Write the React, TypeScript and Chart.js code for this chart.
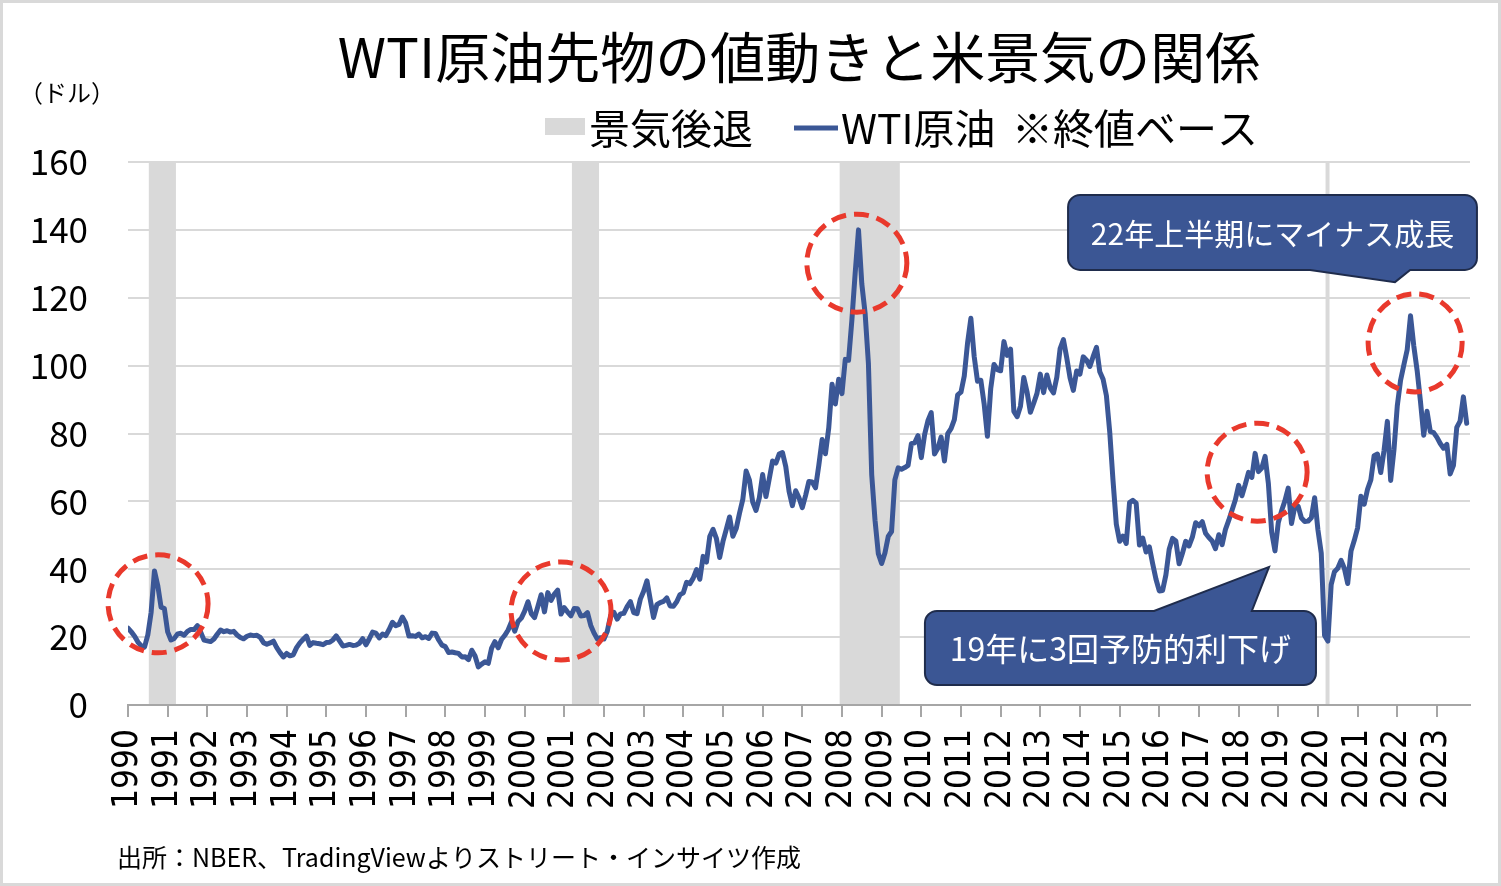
import React, { useEffect, useRef } from 'react';
import { Chart, registerables } from 'chart.js';

Chart.register(...registerables);

// ---- data (monthly closing price of WTI crude futures, USD) ----
const START_YEAR = 1990;
const prices1990s = [
  22.68, 21.54, 20.28, 18.54, 17.40, 17.07, 20.69, 27.32, 39.51, 35.23, 28.85, 28.44,
  21.54, 19.16, 19.63, 20.96, 21.13, 20.56, 21.68, 22.26, 22.23, 23.37, 21.48, 19.12,
  18.90, 18.68, 19.44, 20.85, 22.11, 21.60, 21.87, 21.48, 21.71, 20.62, 19.89, 19.50,
  20.26, 20.60, 20.44, 20.53, 19.91, 18.37, 17.88, 18.29, 18.79, 16.92, 15.43, 14.17,
  15.19, 14.48, 14.79, 16.90, 18.31, 19.37, 20.30, 17.56, 18.39, 18.19, 18.05, 17.76,
  18.39, 18.49, 19.17, 20.38, 18.89, 17.40, 17.56, 17.84, 17.54, 17.64, 18.18, 19.55,
  17.74, 19.54, 21.47, 21.20, 19.76, 20.92, 20.42, 22.25, 24.38, 23.35, 23.75, 25.92,
  24.15, 20.30, 20.41, 20.21, 20.88, 19.80, 20.14, 19.61, 21.18, 21.08, 19.15, 17.64,
  17.21, 15.44, 15.61, 15.39, 15.20, 14.18, 14.21, 13.39, 16.14, 14.42, 11.22, 12.05,
  12.75, 12.27, 16.76, 18.66, 16.84, 19.29, 20.53, 22.11, 24.51, 21.75, 24.59, 25.60,
];
const prices2000s = [
  27.64, 30.43, 26.90, 25.74, 29.01, 32.50, 27.43, 33.12, 30.84, 32.70, 33.82, 26.80,
  28.66, 27.39, 26.29, 28.46, 28.37, 26.25, 26.35, 27.20, 23.43, 21.18, 19.44, 19.84,
  19.48, 21.74, 26.31, 27.29, 25.31, 26.86, 27.02, 28.98, 30.45, 27.22, 26.89, 31.20,
  33.51, 36.60, 31.04, 25.80, 29.56, 30.19, 30.54, 31.57, 29.20, 29.11, 30.41, 32.52,
  33.05, 36.16, 35.76, 37.38, 39.88, 37.05, 43.80, 42.12, 49.64, 51.76, 49.13, 43.45,
  48.20, 51.75, 55.40, 49.72, 51.97, 56.50, 60.57, 68.94, 66.24, 59.76, 57.32, 61.04,
  67.92, 61.41, 66.63, 71.88, 71.29, 73.93, 74.40, 70.26, 62.91, 58.73, 63.13, 61.05,
  58.14, 61.79, 65.87, 65.71, 64.01, 70.68, 78.21, 74.04, 81.66, 94.53, 88.71, 95.98,
  91.75, 101.84, 101.58, 113.46, 127.35, 140.00, 124.08, 115.46, 100.64, 67.81, 54.43, 44.60,
  41.68, 44.76, 49.66, 51.12, 66.31, 69.89, 69.45, 69.96, 70.61, 77.00, 77.28, 79.36,
];
const prices2010s = [
  72.89, 79.66, 83.76, 86.15, 73.97, 75.63, 78.95, 71.92, 79.97, 81.43, 84.11, 91.38,
  92.19, 96.97, 106.72, 113.93, 102.70, 95.42, 95.70, 88.81, 79.20, 93.19, 100.36, 98.83,
  98.48, 107.07, 103.02, 104.87, 86.53, 84.96, 88.06, 96.47, 92.19, 86.24, 88.91, 91.82,
  97.49, 92.05, 97.23, 93.46, 91.97, 96.56, 105.03, 107.65, 102.33, 96.38, 92.72, 98.42,
  97.49, 102.59, 101.58, 99.74, 102.71, 105.37, 98.17, 95.96, 91.16, 80.54, 66.15, 53.27,
  48.24, 49.76, 47.60, 59.63, 60.30, 59.47, 47.12, 49.20, 45.09, 46.59, 41.65, 37.04,
  33.62, 33.75, 38.34, 45.92, 49.10, 48.33, 41.60, 44.70, 48.24, 46.86, 49.44, 53.72,
  52.81, 54.01, 50.60, 49.33, 48.32, 46.04, 50.17, 47.23, 51.67, 54.38, 57.40, 60.42,
  64.73, 61.64, 64.94, 68.57, 67.04, 74.15, 68.76, 69.80, 73.25, 65.31, 50.93, 45.41,
  53.79, 57.22, 60.14, 63.91, 53.50, 58.47, 58.58, 55.10, 54.07, 54.18, 55.17, 61.06,
];
const prices2020s = [
  51.56, 44.76, 20.48, 18.84, 35.49, 39.27, 40.27, 42.61, 40.22, 35.79, 45.34, 48.52,
  52.20, 61.50, 59.16, 63.58, 66.32, 73.47, 73.95, 68.50, 75.03, 83.57, 66.18, 75.21,
  88.15, 95.72, 100.28, 104.69, 114.67, 105.76, 98.62, 89.55, 79.49, 86.53, 80.55, 80.26,
  78.87, 77.05, 75.67, 76.78, 68.09, 70.64, 81.80, 83.63, 90.79, 83.00,
];
const wtiPrices = [...prices1990s, ...prices2000s, ...prices2010s, ...prices2020s];

const yearLabels = [
  '1990', '1991', '1992', '1993', '1994', '1995', '1996', '1997', '1998', '1999',
  '2000', '2001', '2002', '2003', '2004', '2005', '2006', '2007', '2008', '2009',
  '2010', '2011', '2012', '2013', '2014', '2015', '2016', '2017', '2018', '2019',
  '2020', '2021', '2022', '2023',
];
const yTickValues = [0, 20, 40, 60, 80, 100, 120, 140, 160];

// NBER recessions (peak month, trough month)
const recessionStarts = ['1990-07', '2001-03', '2007-12', '2020-03'];
const recessionEnds = ['1991-03', '2001-11', '2009-06', '2020-04'];

// highlighted spots (month index from Jan 1990, price level)
const highlightMonth = [9.1, 131.0, 220.5, 341.6, 389.4];
const highlightPrice = [29.8, 27.7, 130.2, 68.6, 106.7];

const calloutTexts = ['22年上半期にマイナス成長', '19年に3回予防的利下げ'];

const monthIndex = (s: string) => {
  const [y, m] = s.split('-').map(Number);
  return (y - START_YEAR) * 12 + (m - 1);
};

const LINE_COLOR = '#3B5796';
const BOX_COLOR = '#3B5694';
const BOX_EDGE = '#1F2C4C';
const RED = '#E9392C';
const GRAY = '#D9D9D9';
const JP = "'Noto Sans CJK JP', 'Noto Sans', sans-serif";

// callout geometry in data units
const callouts = [
  { text: calloutTexts[0], size: 30, x0: 284.4, x1: 408.1, yTop: 150.3, yBot: 128.2, side: 'bottom', b1: 357.6, b2: 387.9, tipX: 383.3, tipY: 124.6 },
  { text: calloutTexts[1], size: 32, x0: 241.1, x1: 359.4, yTop: 27.7, yBot: 5.9, side: 'top', b1: 310.4, b2: 340.0, tipX: 345.2, tipY: 40.7 },
];

const decorPlugin = {
  id: 'decor',
  beforeDraw(chart: any) {
    const { ctx, chartArea: a, scales } = chart;
    const x = scales.x;
    ctx.save();
    ctx.fillStyle = '#ffffff';
    ctx.fillRect(0, 0, chart.width, chart.height);
    ctx.strokeStyle = GRAY;
    ctx.lineWidth = 3;
    ctx.strokeRect(1.5, 1.5, chart.width - 3, chart.height - 3);
    ctx.fillStyle = GRAY;
    recessionStarts.forEach((s, i) => {
      const x0 = x.getPixelForValue(monthIndex(s) + 0.3);
      const x1 = x.getPixelForValue(monthIndex(recessionEnds[i]) + 0.5);
      ctx.fillRect(x0, a.top, x1 - x0, a.bottom - a.top);
    });
    ctx.restore();
  },
  afterDatasetsDraw(chart: any) {
    const { ctx, scales } = chart;
    const x = scales.x;
    const y = scales.y;
    ctx.save();
    // red dashed circles
    ctx.strokeStyle = RED;
    ctx.lineWidth = 5;
    ctx.setLineDash([15, 8]);
    highlightMonth.forEach((m, i) => {
      const cx = x.getPixelForValue(m);
      const cy = y.getPixelForValue(highlightPrice[i]);
      ctx.beginPath();
      ctx.ellipse(cx, cy, i === 4 ? 47 : 50, 49, 0, 0, Math.PI * 2);
      ctx.stroke();
    });
    ctx.setLineDash([]);
    // callouts
    callouts.forEach((c) => {
      const l = x.getPixelForValue(c.x0);
      const r = x.getPixelForValue(c.x1);
      const t = y.getPixelForValue(c.yTop);
      const b = y.getPixelForValue(c.yBot);
      const p1 = x.getPixelForValue(c.b1);
      const p2 = x.getPixelForValue(c.b2);
      const tx = x.getPixelForValue(c.tipX);
      const ty = y.getPixelForValue(c.tipY);
      const rad = 12;
      ctx.beginPath();
      ctx.moveTo(l + rad, t);
      if (c.side === 'top') {
        ctx.lineTo(p1, t);
        ctx.lineTo(tx, ty);
        ctx.lineTo(p2, t);
      }
      ctx.lineTo(r - rad, t);
      ctx.arcTo(r, t, r, t + rad, rad);
      ctx.lineTo(r, b - rad);
      ctx.arcTo(r, b, r - rad, b, rad);
      if (c.side === 'bottom') {
        ctx.lineTo(p2, b);
        ctx.lineTo(tx, ty);
        ctx.lineTo(p1, b);
      }
      ctx.lineTo(l + rad, b);
      ctx.arcTo(l, b, l, b - rad, rad);
      ctx.lineTo(l, t + rad);
      ctx.arcTo(l, t, l + rad, t, rad);
      ctx.closePath();
      ctx.fillStyle = BOX_COLOR;
      ctx.fill();
      ctx.strokeStyle = BOX_EDGE;
      ctx.lineWidth = 2;
      ctx.stroke();
      ctx.fillStyle = '#ffffff';
      ctx.font = `${c.size}px ${JP}`;
      ctx.textAlign = 'center';
      ctx.textBaseline = 'middle';
      ctx.fillText(c.text, (l + r) / 2, (t + b) / 2 + 1);
    });
    ctx.restore();
  },
  afterDraw(chart: any) {
    const { ctx, chartArea: a } = chart;
    ctx.save();
    ctx.fillStyle = '#000000';
    ctx.textBaseline = 'middle';
    // title
    ctx.font = `55px ${JP}`;
    ctx.textAlign = 'center';
    ctx.fillText('WTI原油先物の値動きと米景気の関係', (a.left + a.right) / 2, 57);
    // unit
    ctx.textAlign = 'left';
    ctx.font = `24px ${JP}`;
    ctx.fillText('（ドル）', 19, 93);
    // legend
    ctx.fillStyle = GRAY;
    ctx.fillRect(545, 118, 40, 17);
    ctx.strokeStyle = LINE_COLOR;
    ctx.lineWidth = 5;
    ctx.beginPath();
    ctx.moveTo(794, 128);
    ctx.lineTo(838, 128);
    ctx.stroke();
    ctx.fillStyle = '#000000';
    ctx.font = `41px ${JP}`;
    ctx.fillText('景気後退', 589, 128);
    ctx.fillText('WTI原油', 841, 128);
    ctx.fillText('※終値ベース', 1012, 128);
    // source
    ctx.font = `25px ${JP}`;
    ctx.fillText('出所：NBER、TradingViewよりストリート・インサイツ作成', 117, 857);
    ctx.restore();
  },
};

export default function App() {
  const ref = useRef<HTMLCanvasElement | null>(null);
  useEffect(() => {
    document.body.style.margin = '0';
    const canvas = ref.current;
    if (!canvas) return;
    const chart = new Chart(canvas, {
      type: 'line',
      data: {
        datasets: [
          {
            label: 'WTI原油',
            data: wtiPrices.map((v, i) => ({ x: i, y: v })),
            borderColor: LINE_COLOR,
            borderWidth: 5,
            pointRadius: 0,
            tension: 0,
            borderJoinStyle: 'round',
            borderCapStyle: 'round',
          },
        ],
      },
      options: {
        responsive: false,
        animation: false,
        devicePixelRatio: 1,
        layout: { padding: { top: 162, right: 31, left: 0, bottom: 0 } },
        plugins: { legend: { display: false }, tooltip: { enabled: false }, title: { display: false } },
        scales: {
          x: {
            type: 'linear',
            min: 0,
            max: 406,
            afterBuildTicks: (scale: any) => {
              scale.ticks = yearLabels.map((_, i) => ({ value: i * 12 }));
            },
            afterFit: (scale: any) => {
              scale.height = 181;
            },
            ticks: {
              autoSkip: false,
              minRotation: 90,
              maxRotation: 90,
              padding: 12,
              color: '#000000',
              font: { family: "'DejaVu Sans Condensed', 'DejaVu Sans', sans-serif", size: 35 },
              callback: (v: any) => yearLabels[Math.round(Number(v) / 12)],
            },
            grid: { drawOnChartArea: false, drawTicks: true, tickLength: 12, color: '#A6A6A6', lineWidth: 2 },
            border: { display: true, color: '#A6A6A6', width: 2 },
          },
          y: {
            min: 0,
            max: 160,
            afterBuildTicks: (scale: any) => {
              scale.ticks = yTickValues.map((v) => ({ value: v }));
            },
            afterFit: (scale: any) => {
              scale.width = 128;
            },
            ticks: {
              padding: 40,
              color: '#000000',
              font: { family: JP, size: 35 },
            },
            grid: {
              drawTicks: false,
              lineWidth: 2,
              color: (c: any) => (c.tick && c.tick.value === 0 ? 'rgba(0,0,0,0)' : GRAY),
            },
            border: { display: false },
          },
        },
      },
      plugins: [decorPlugin],
    } as any);
    return () => chart.destroy();
  }, []);
  return <canvas ref={ref} width={1501} height={886} style={{ display: 'block' }} />;
}
